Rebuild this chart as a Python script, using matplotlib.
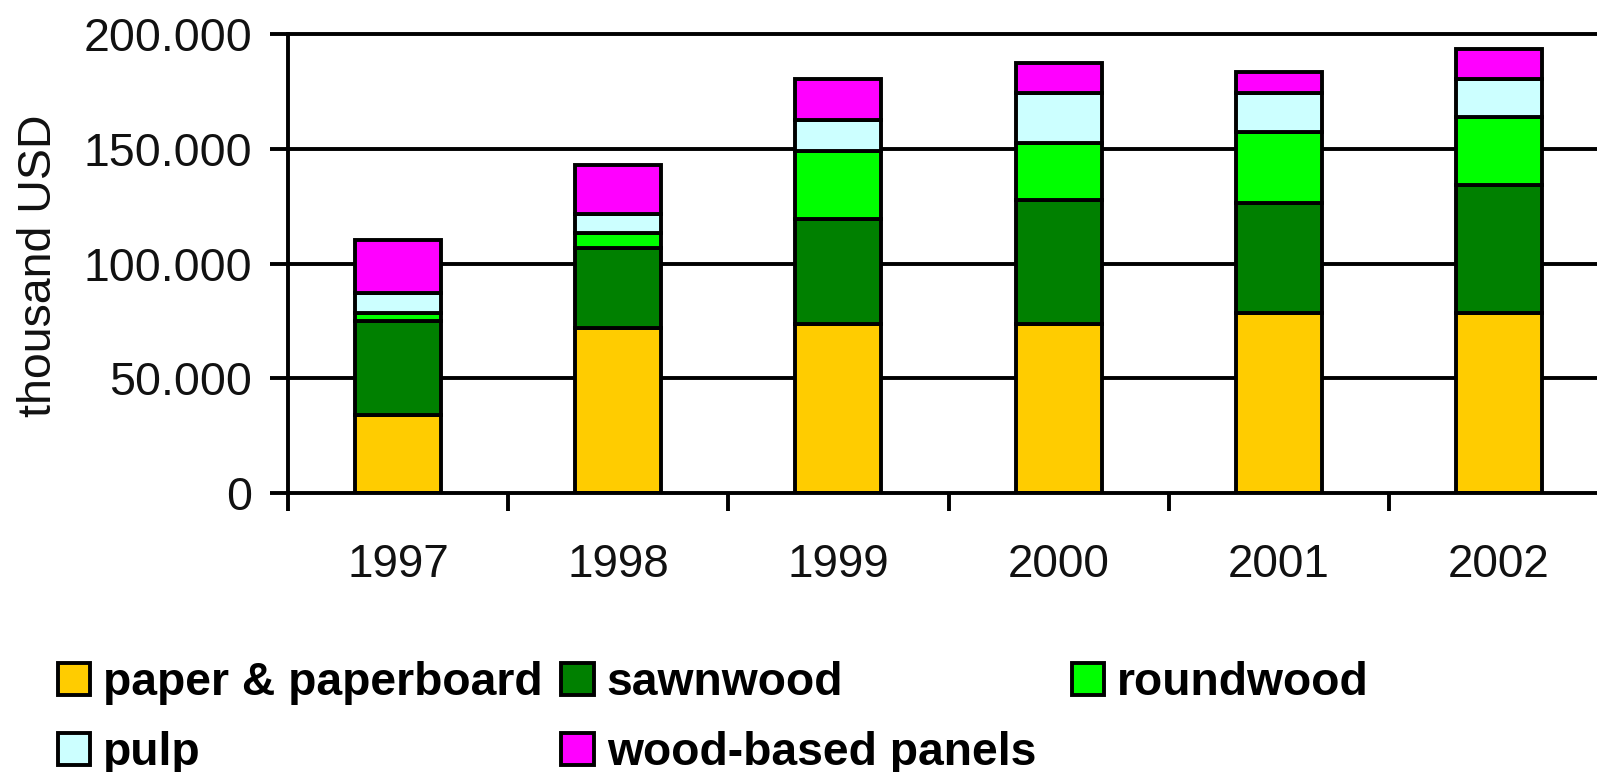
import numpy as np
import matplotlib
matplotlib.use('Agg')
import matplotlib.pyplot as plt
from matplotlib.patches import Patch

plt.rcParams['font.family'] = ['Liberation Sans', 'DejaVu Sans']

years = ['1997', '1998', '1999', '2000', '2001', '2002']

# thousand USD
paper = [34100, 72100, 73600, 73600, 78400, 78400]
sawnwood = [41100, 34600, 46000, 54100, 47900, 55900]
roundwood = [3500, 6500, 29600, 24700, 31200, 29400]
pulp = [8500, 8300, 13400, 21800, 16700, 16700]
panels = [23100, 21300, 17900, 13000, 9400, 12900]

series_names = ['paper & paperboard', 'sawnwood', 'roundwood', 'pulp', 'wood-based panels']
series_colors = ['#FFCC00', '#008000', '#00FF00', '#CCFFFF', '#FF00FF']

y_ticks = [0, 50000, 100000, 150000, 200000]
y_tick_labels = ['0', '50.000', '100.000', '150.000', '200.000']

W, H = 1597, 772
fig = plt.figure(figsize=(W / 100, H / 100), dpi=100)
x0, x1 = 288, 1609
ytop, ybot = 34, 493.3
ax = fig.add_axes([x0 / W, 1 - ybot / H, (x1 - x0) / W, (ybot - ytop) / H])

lw = 2.8
x = np.arange(len(years))
bottom = np.zeros(len(years))
for vals, name, col in zip([paper, sawnwood, roundwood, pulp, panels], series_names, series_colors):
    ax.bar(x, vals, width=0.39, bottom=bottom, color=col, edgecolor='black',
           linewidth=lw, zorder=3, label=name)
    bottom = bottom + np.array(vals)

ax.set_xlim(-0.5, 5.5)
ax.set_ylim(0, 200000)

for yv in y_ticks[1:]:
    ax.axhline(yv, color='black', linewidth=lw, zorder=1, clip_on=False)

for s in ['top', 'right']:
    ax.spines[s].set_visible(False)
for s in ['left', 'bottom']:
    ax.spines[s].set_linewidth(lw)
    ax.spines[s].set_zorder(4)

ax.set_yticks(y_ticks)
ax.set_yticklabels(y_tick_labels)
ax.tick_params(axis='y', length=13, width=lw, pad=13, labelsize=33.5, labelcolor='#111111')

ax.set_xticks(np.arange(-0.5, 5.0, 1.0))
ax.set_xticklabels([])
ax.tick_params(axis='x', which='major', length=13, width=lw)
ax.set_xticks(x, minor=True)
ax.set_xticklabels(years, minor=True)
ax.tick_params(axis='x', which='minor', length=0, pad=36, labelsize=33, labelcolor='#111111')

fig.text(39 / W, 1 - 266 / H, 'thousand USD', rotation=90, ha='center', va='center',
         fontsize=33.5, color='#111111')

handles = [Patch(facecolor=c, edgecolor='black', linewidth=lw) for c in series_colors]
leg_kw = dict(loc='upper left', frameon=False, prop={'weight': 'bold', 'size': 33.3},
              handlelength=0.7, handleheight=0.7, handletextpad=0.28,
              columnspacing=0.4, labelspacing=0.56, borderpad=0, borderaxespad=0)
# first two legend columns, then roundwood on its own further right
order = [0, 3, 1, 4]
fig.legend([handles[i] for i in order], [series_names[i] for i in order], ncol=2,
           bbox_to_anchor=(58 / W, 1 - 661 / H), **leg_kw)
fig.legend([handles[2]], [series_names[2]], ncol=1,
           bbox_to_anchor=(1072 / W, 1 - 661 / H), **leg_kw)

fig.savefig('out.png', dpi=100)
